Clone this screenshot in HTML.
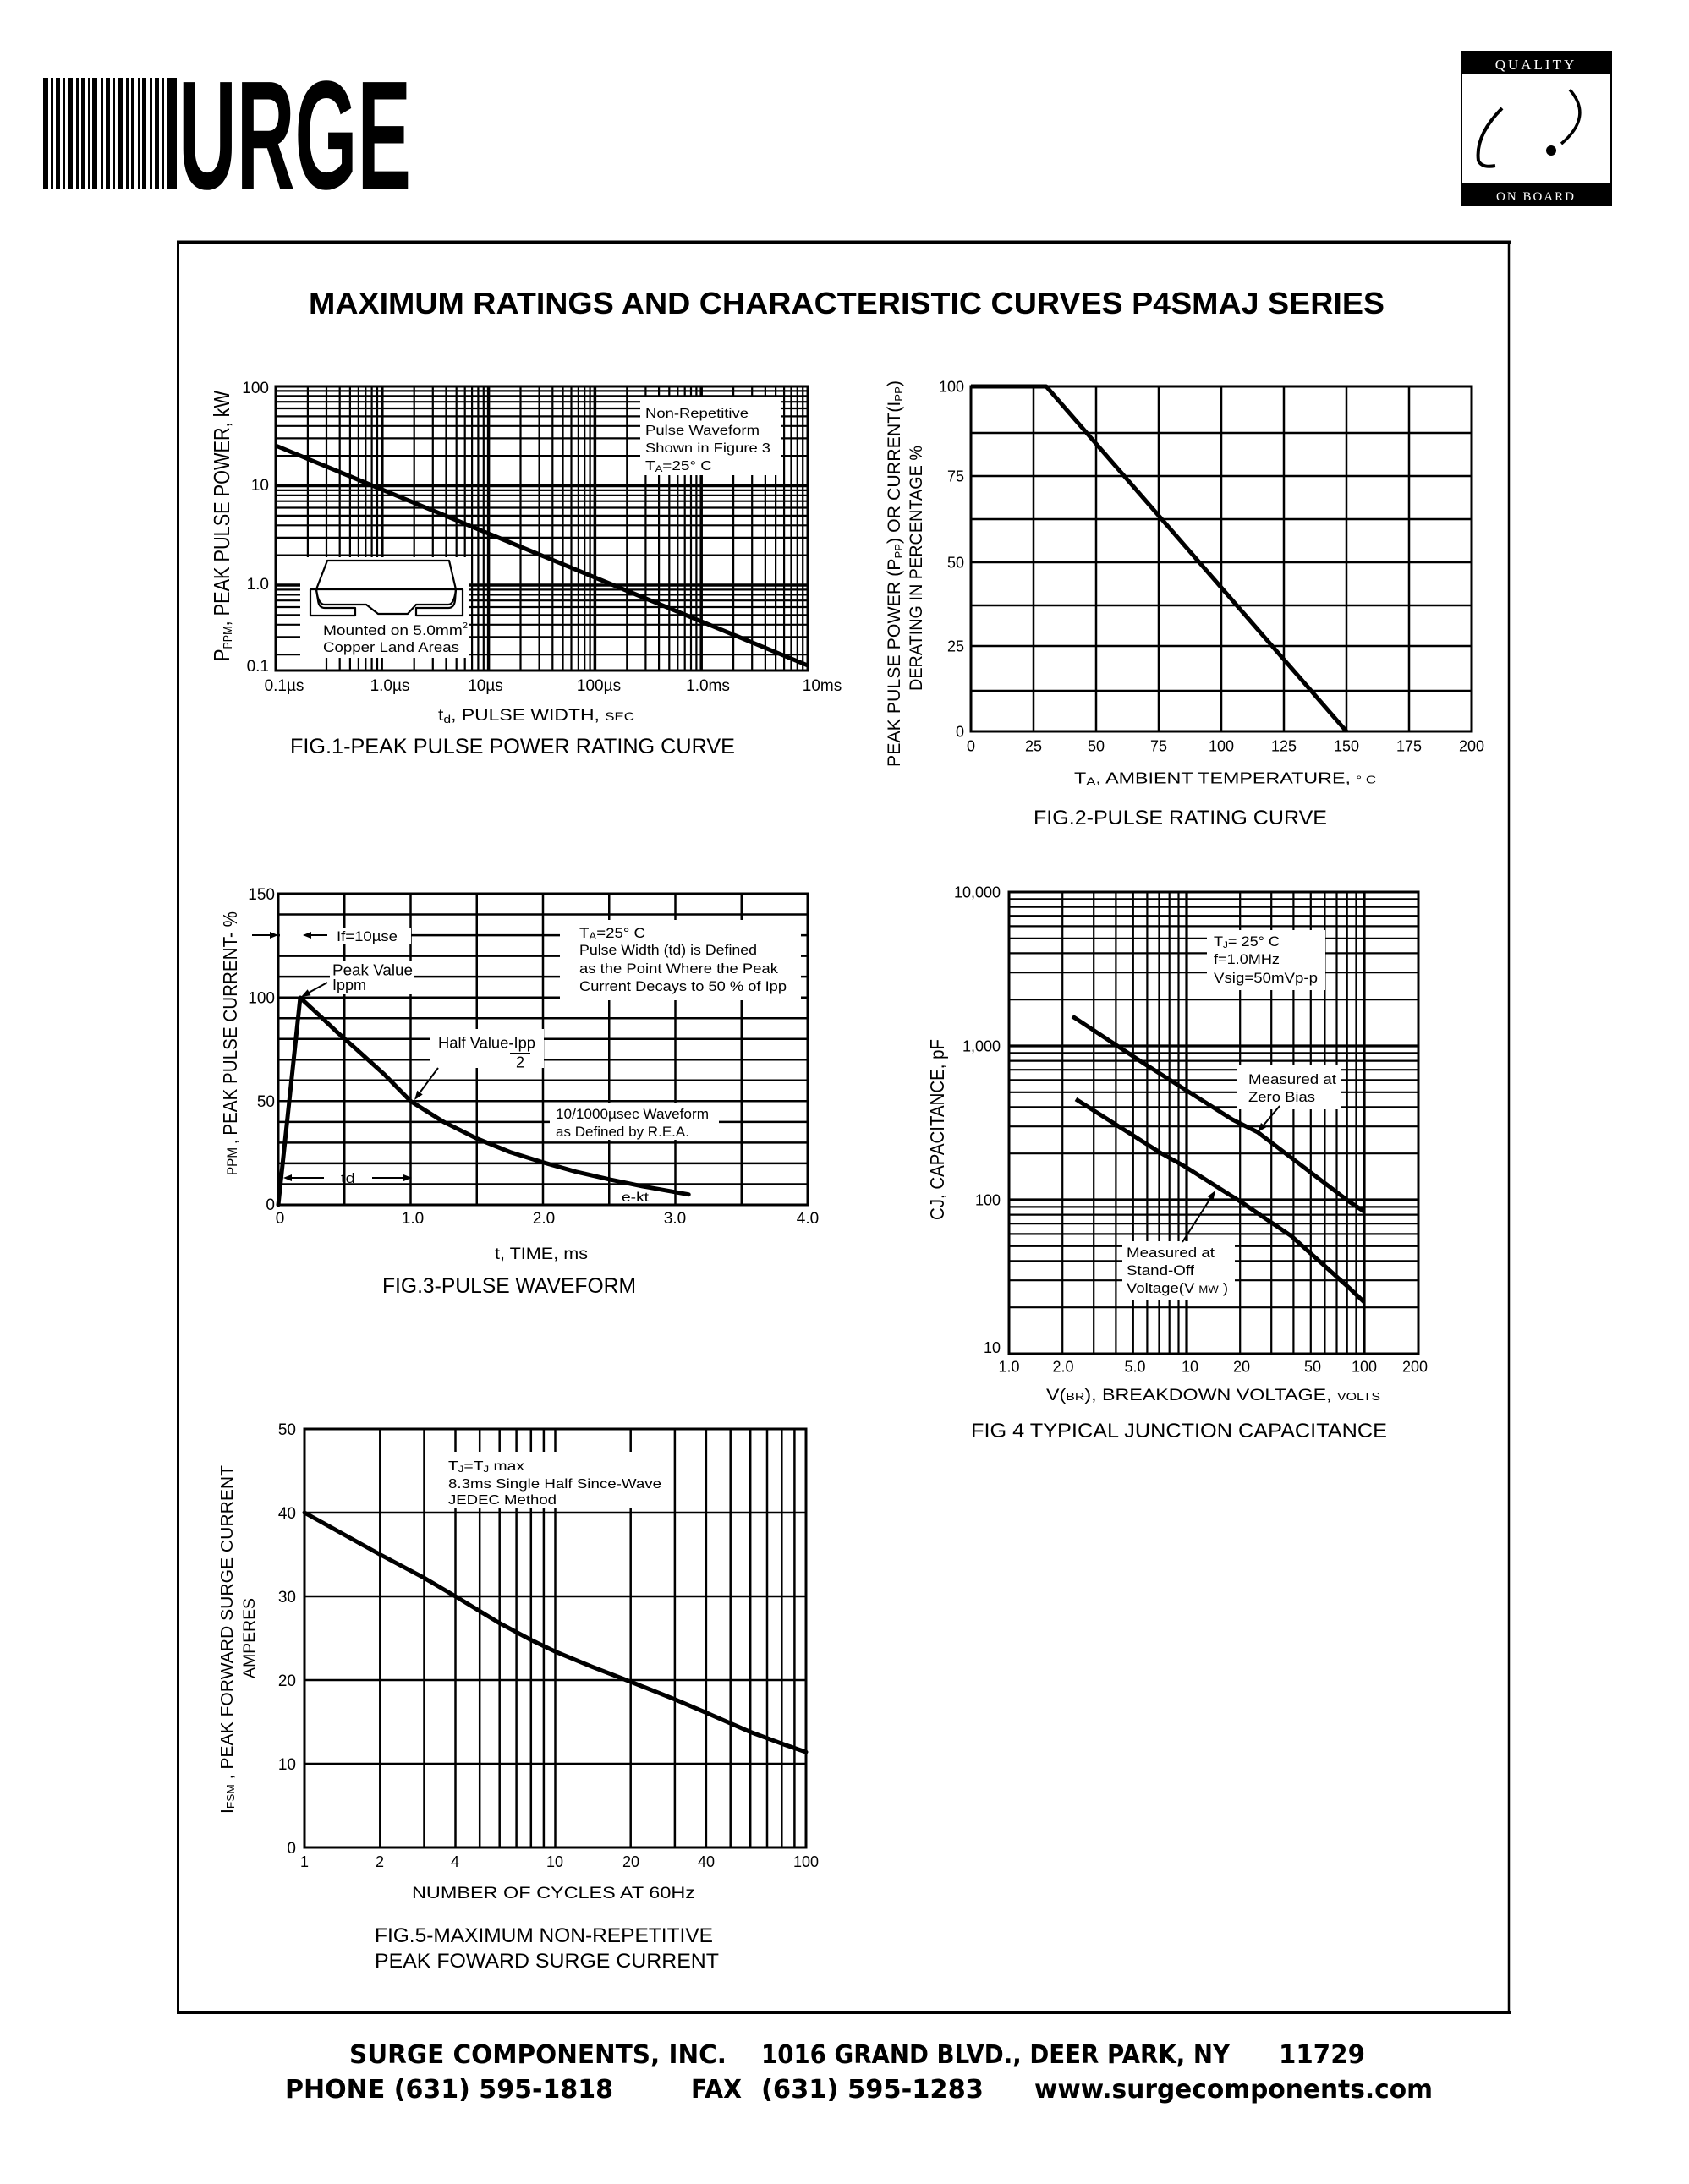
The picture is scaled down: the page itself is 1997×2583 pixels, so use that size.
<!DOCTYPE html>
<html><head><meta charset="utf-8"><title>P4SMAJ Series - Maximum Ratings and Characteristic Curves</title><style>
html,body{margin:0;padding:0;background:#fff;}
svg{display:block;}
</style></head><body>
<svg width="1997" height="2583" viewBox="0 0 1997 2583" xmlns="http://www.w3.org/2000/svg" font-family="'Liberation Sans', Arial, sans-serif" fill="#000">
<rect width="1997" height="2583" fill="#fff"/>

<!-- SURGE logo -->
<g fill="#000">
<rect x="51" y="92" width="6" height="131"/><rect x="60" y="92" width="3" height="131"/><rect x="66" y="92" width="5" height="131"/>
<rect x="75" y="92" width="2" height="131"/><rect x="80" y="92" width="6" height="131"/><rect x="90" y="92" width="3" height="131"/>
<rect x="96" y="92" width="4" height="131"/><rect x="104" y="92" width="2" height="131"/><rect x="109" y="92" width="6" height="131"/>
<rect x="119" y="92" width="3" height="131"/><rect x="125" y="92" width="5" height="131"/><rect x="134" y="92" width="2" height="131"/>
<rect x="139" y="92" width="6" height="131"/><rect x="149" y="92" width="3" height="131"/><rect x="155" y="92" width="4" height="131"/>
<rect x="163" y="92" width="2" height="131"/><rect x="168" y="92" width="5" height="131"/><rect x="177" y="92" width="3" height="131"/>
<rect x="183" y="92" width="5" height="131"/><rect x="191" y="92" width="3" height="131"/><rect x="197" y="92" width="12" height="131"/>
</g>
<text x="211" y="223" font-size="183" font-weight="bold" textLength="275" lengthAdjust="spacingAndGlyphs">URGE</text>

<!-- Quality on board logo -->
<rect x="1728" y="61" width="177" height="182" fill="#fff" stroke="#000" stroke-width="2"/>
<rect x="1728" y="61" width="177" height="27" fill="#000"/>
<rect x="1728" y="217" width="177" height="26" fill="#000"/>
<text x="1816" y="82" font-family="'Liberation Serif', serif" font-size="17" fill="#fff" text-anchor="middle" letter-spacing="3">QUALITY</text>
<text x="1816" y="237" font-family="'Liberation Serif', serif" font-size="15" fill="#fff" text-anchor="middle" letter-spacing="2">ON BOARD</text>
<path d="M1776,128 Q1744,160 1748,190 Q1752,199 1768,196" stroke="#000" stroke-width="4" fill="none"/>
<circle cx="1834" cy="178" r="6"/>
<path d="M1856,106 Q1884,138 1846,170" stroke="#000" stroke-width="3.5" fill="none"/>

<!-- Main frame -->
<g stroke="#000" fill="none">
<line x1="209" y1="286.5" x2="1786" y2="286.5" stroke-width="4"/>
<line x1="210.5" y1="285" x2="210.5" y2="2382" stroke-width="3"/>
<line x1="1784" y1="285" x2="1784" y2="2382" stroke-width="2.5"/>
<line x1="209" y1="2380" x2="1786" y2="2380" stroke-width="4"/>
</g>

<text x="365" y="371" font-size="36" font-weight="bold" textLength="1272" lengthAdjust="spacingAndGlyphs">MAXIMUM RATINGS AND CHARACTERISTIC CURVES P4SMAJ SERIES</text>

<!-- ================= FIG 1 ================= -->
<g stroke="#000" fill="none">
<path stroke-width="2.2" d="M363.9,457V793M386,457V793M401.7,457V793M413.9,457V793M423.9,457V793M432.3,457V793M439.6,457V793M446,457V793M489.7,457V793M511.8,457V793M527.5,457V793M539.7,457V793M549.7,457V793M558.1,457V793M565.4,457V793M571.8,457V793M615.5,457V793M637.6,457V793M653.3,457V793M665.5,457V793M675.5,457V793M683.9,457V793M691.2,457V793M697.6,457V793M741.3,457V793M763.4,457V793M779.1,457V793M791.3,457V793M801.3,457V793M809.7,457V793M817,457V793M823.4,457V793M867.1,457V793M889.2,457V793M904.9,457V793M917.1,457V793M927.1,457V793M935.5,457V793M942.8,457V793M949.2,457V793"/>
<path stroke-width="3.5" d="M451.8,457V793M577.6,457V793M703.4,457V793M829.2,457V793"/>
<path stroke-width="2.2" d="M326,462.4H955M326,468.4H955M326,475.2H955M326,483H955M326,492.4H955M326,503.8H955M326,518.4H955M326,539.1H955M326,579.9H955M326,585.9H955M326,592.7H955M326,600.5H955M326,609.9H955M326,621.3H955M326,635.9H955M326,656.6H955M326,697.4H955M326,703.4H955M326,710.2H955M326,718H955M326,727.4H955M326,738.8H955M326,753.4H955M326,774.1H955"/>
<path stroke-width="3.5" d="M326,574.5H955M326,692H955"/>
</g>
<rect x="757" y="470" width="166" height="92" fill="#fff"/>
<rect x="328" y="659" width="227" height="132.5" fill="#fff"/>
<g stroke="#000" fill="none">
<path stroke-width="3.5" d="M326,692H355"/>
<path stroke-width="2.2" d="M326,697.4H355M326,703.4H355M326,710.2H355M326,718H355M326,727.4H355M326,738.8H355M326,753.4H355M326,774.1H355"/>
<path stroke-width="2.2" d="M386,778V793M401.7,778V793M413.9,778V793M423.9,778V793M432.3,778V793M439.6,778V793M446,778V793M451.8,778V793M489.7,778V793M511.8,778V793M527.5,778V793M539.7,778V793M549.7,778V793"/>
<rect x="326" y="457" width="629" height="336" stroke-width="3"/>
<line x1="326" y1="527" x2="955" y2="787" stroke-width="5"/>
<!-- package drawing -->
<g stroke-width="2.2" stroke-linejoin="round">
<path d="M374,697 L387,663 L531,663 L539,697"/>
<path d="M367,697 L547,697"/>
<path d="M367,697 L367,728 L420,728 L420,719 L384,719 Q377,719 376,710 L374,697"/>
<path d="M547,697 L547,728 L492,728 L492,719 L530,719 Q537,719 538,710 L539,697"/>
<path d="M374,697 Q376,715 384,715 L433,715 L447,726 L482,726 L492,715 L530,715 Q537,715 539,697"/>
</g>
</g>
<g font-size="16">
<text x="763" y="494" textLength="122" lengthAdjust="spacingAndGlyphs">Non-Repetitive</text>
<text x="763" y="514" textLength="135" lengthAdjust="spacingAndGlyphs">Pulse Waveform</text>
<text x="763" y="535" textLength="148" lengthAdjust="spacingAndGlyphs">Shown in Figure 3</text>
<text x="763" y="556" textLength="79" lengthAdjust="spacingAndGlyphs">T<tspan font-size="11" dy="2">A</tspan><tspan dy="-2">=25° C</tspan></text>
</g>
<g font-size="17">
<text x="382" y="751" textLength="171" lengthAdjust="spacingAndGlyphs">Mounted on 5.0mm<tspan font-size="10" dy="-8">2</tspan></text>
<text x="382" y="771" textLength="161" lengthAdjust="spacingAndGlyphs">Copper Land Areas</text>
</g>
<g font-size="19" text-anchor="end">
<text x="318" y="465">100</text>
<text x="318" y="580">10</text>
<text x="318" y="697">1.0</text>
<text x="318" y="794">0.1</text>
</g>
<g font-size="19" text-anchor="middle">
<text x="336" y="817">0.1µs</text>
<text x="461" y="817">1.0µs</text>
<text x="574" y="817">10µs</text>
<text x="708" y="817">100µs</text>
<text x="837" y="817">1.0ms</text>
<text x="972" y="817">10ms</text>
</g>
<text x="518" y="852" font-size="19" textLength="232" lengthAdjust="spacingAndGlyphs">t<tspan font-size="13" dy="3">d</tspan><tspan dy="-3">, PULSE  WIDTH, </tspan><tspan font-size="14">SEC</tspan></text>
<text x="343" y="891" font-size="25" textLength="526" lengthAdjust="spacingAndGlyphs">FIG.1-PEAK PULSE POWER RATING CURVE</text>
<text transform="translate(271,782) rotate(-90)" font-size="26" textLength="320" lengthAdjust="spacingAndGlyphs">P<tspan font-size="15" dy="3">PPM</tspan><tspan dy="-3">, PEAK  PULSE  POWER,  kW</tspan></text>

<!-- ================= FIG 2 ================= -->
<g stroke="#000" fill="none">
<path stroke-width="2.5" d="M1222,457V865M1296,457V865M1370,457V865M1444,457V865M1518,457V865M1592,457V865M1666,457V865"/>
<path stroke-width="2.5" d="M1148,512H1740M1148,563H1740M1148,614H1740M1148,665H1740M1148,716H1740M1148,764H1740M1148,817H1740"/>
<rect x="1148" y="457" width="592" height="408" stroke-width="3"/>
<path d="M1148,457 H1237 L1592,865" stroke-width="5" stroke-linejoin="round"/>
</g>
<g font-size="18" text-anchor="end">
<text x="1140" y="463.5">100</text>
<text x="1140" y="569.5">75</text>
<text x="1140" y="671.5">50</text>
<text x="1140" y="770.5">25</text>
<text x="1140" y="871.5">0</text>
</g>
<g font-size="18" text-anchor="middle">
<text x="1148" y="888.5">0</text>
<text x="1222" y="888.5">25</text>
<text x="1296" y="888.5">50</text>
<text x="1370" y="888.5">75</text>
<text x="1444" y="888.5">100</text>
<text x="1518" y="888.5">125</text>
<text x="1592" y="888.5">150</text>
<text x="1666" y="888.5">175</text>
<text x="1740" y="888.5">200</text>
</g>
<text x="1270" y="926.5" font-size="18" textLength="357" lengthAdjust="spacingAndGlyphs">T<tspan font-size="13" dy="2">A</tspan><tspan dy="-2">, AMBIENT  TEMPERATURE, </tspan><tspan font-size="13">° C</tspan></text>
<text x="1222" y="975" font-size="24" textLength="347" lengthAdjust="spacingAndGlyphs">FIG.2-PULSE RATING CURVE</text>
<text transform="translate(1064,907) rotate(-90)" font-size="21" textLength="457" lengthAdjust="spacingAndGlyphs">PEAK PULSE POWER (P<tspan font-size="13" dy="3">PP</tspan><tspan dy="-3">) OR CURRENT(I</tspan><tspan font-size="13" dy="3">PP</tspan><tspan dy="-3">)</tspan></text>
<text transform="translate(1090,817) rotate(-90)" font-size="21" textLength="290" lengthAdjust="spacingAndGlyphs">DERATING IN PERCENTAGE %</text>

<!-- ================= FIG 3 ================= -->
<g stroke="#000" fill="none">
<path stroke-width="2.5" d="M407.25,1057V1425M485.5,1057V1425M563.75,1057V1425M642,1057V1425M720.25,1057V1425M798.5,1057V1425M876.75,1057V1425"/>
<path stroke-width="2.5" d="M329,1081.5H955M329,1106.1H955M329,1130.6H955M329,1155.1H955M329,1179.7H955M329,1204.2H955M329,1228.7H955M329,1253.3H955M329,1277.8H955M329,1302.3H955M329,1326.9H955M329,1351.4H955M329,1375.9H955M329,1400.5H955"/>
</g>
<rect x="331" y="1097" width="155" height="20" fill="#fff"/>
<rect x="390" y="1136" width="100" height="40" fill="#fff"/>
<rect x="662" y="1088" width="285" height="95" fill="#fff"/>
<rect x="508" y="1217" width="135" height="46" fill="#fff"/>
<rect x="650" y="1305" width="200" height="43" fill="#fff"/>
<g stroke="#000" fill="none">
<rect x="329" y="1057" width="626" height="368" stroke-width="3"/>
<polyline stroke-width="5" stroke-linejoin="round" stroke-linecap="round" points="329,1425 355,1180 376,1199.4 399.4,1221.5 422.9,1242.3 454.2,1270.5 485.5,1302.4 524.6,1326.9 563.8,1346.5 602.9,1362.5 642,1374.7 681.1,1385.8 720.3,1394.8 759.4,1402.9 814.2,1412.7"/>
<g stroke-width="2">
<path d="M298,1106H322M387,1106H366M387,1162L365,1174M518,1263L495,1294M383,1393H345M440,1393H477M603,1246H627"/>
</g>
</g>
<g>
<polygon points="329,1106 319,1102 319,1110"/>
<polygon points="358,1106 368,1102 368,1110"/>
<polygon points="356,1179 367.5,1177.2 363.7,1170.2"/>
<polygon points="490,1301 499.7,1294.5 493.3,1289.7"/>
<polygon points="335,1393 345,1389 345,1397"/>
<polygon points="487,1393 477,1389 477,1397"/>
</g>
<g font-size="17">
<text x="398" y="1113" textLength="72" lengthAdjust="spacingAndGlyphs">If=10µse</text>
<text x="393" y="1153.5" font-size="18" textLength="95" lengthAdjust="spacingAndGlyphs">Peak Value</text>
<text x="393" y="1171" font-size="18" textLength="40" lengthAdjust="spacingAndGlyphs">Ippm</text>
<text x="685" y="1109" textLength="78" lengthAdjust="spacingAndGlyphs">T<tspan font-size="12" dy="2">A</tspan><tspan dy="-2">=25° C</tspan></text>
<text x="685" y="1129" textLength="210" lengthAdjust="spacingAndGlyphs">Pulse Width (td) is Defined</text>
<text x="685" y="1151" textLength="235" lengthAdjust="spacingAndGlyphs">as the Point Where the Peak</text>
<text x="685" y="1172" textLength="245" lengthAdjust="spacingAndGlyphs">Current Decays to 50 % of Ipp</text>
<text x="518" y="1239.5" font-size="18" textLength="115" lengthAdjust="spacingAndGlyphs">Half Value-Ipp</text>
<text x="615" y="1262.5" font-size="18" text-anchor="middle">2</text>
<text x="657" y="1323" textLength="181" lengthAdjust="spacingAndGlyphs">10/1000µsec Waveform</text>
<text x="657" y="1344" textLength="158" lengthAdjust="spacingAndGlyphs">as Defined by R.E.A.</text>
<text x="403" y="1399" textLength="17" lengthAdjust="spacingAndGlyphs">td</text>
<text x="735" y="1421" font-size="16" textLength="32" lengthAdjust="spacingAndGlyphs">e-kt</text>
</g>
<g font-size="19" text-anchor="end">
<text x="325" y="1064">150</text>
<text x="325" y="1186.5">100</text>
<text x="325" y="1309">50</text>
<text x="325" y="1431">0</text>
</g>
<g font-size="19" text-anchor="middle">
<text x="331" y="1447">0</text>
<text x="488" y="1447">1.0</text>
<text x="643" y="1447">2.0</text>
<text x="798" y="1447">3.0</text>
<text x="955" y="1447">4.0</text>
</g>
<text x="585" y="1489" font-size="19" textLength="110" lengthAdjust="spacingAndGlyphs">t, TIME, ms</text>
<text x="452" y="1529" font-size="25" textLength="300" lengthAdjust="spacingAndGlyphs">FIG.3-PULSE WAVEFORM</text>
<text transform="translate(280,1390) rotate(-90)" font-size="23" textLength="312" lengthAdjust="spacingAndGlyphs"><tspan font-size="17">PPM ,</tspan> PEAK  PULSE  CURRENT- %</text>

<!-- ================= FIG 4 ================= -->
<g stroke="#000" fill="none">
<path stroke-width="2.2" d="M1256.2,1055V1601M1293.2,1055V1601M1319.4,1055V1601M1339.8,1055V1601M1356.4,1055V1601M1370.5,1055V1601M1382.7,1055V1601M1393.5,1055V1601M1466.2,1055V1601M1503.2,1055V1601M1529.4,1055V1601M1549.8,1055V1601M1566.4,1055V1601M1580.5,1055V1601M1592.7,1055V1601M1603.5,1055V1601"/>
<path stroke-width="3.2" d="M1403,1055V1601M1613,1055V1601"/>
<path stroke-width="2.2" d="M1193,1063.4H1677M1193,1072.6H1677M1193,1083.2H1677M1193,1095.4H1677M1193,1109.8H1677M1193,1127.4H1677M1193,1150.2H1677M1193,1182.2H1677M1193,1245.4H1677M1193,1254.6H1677M1193,1265.2H1677M1193,1277.4H1677M1193,1291.8H1677M1193,1309.4H1677M1193,1332.2H1677M1193,1364.2H1677M1193,1427.4H1677M1193,1436.6H1677M1193,1447.2H1677M1193,1459.4H1677M1193,1473.8H1677M1193,1491.4H1677M1193,1514.2H1677M1193,1546.2H1677"/>
<path stroke-width="3.2" d="M1193,1237H1677M1193,1419H1677"/>
</g>
<rect x="1427" y="1100" width="140" height="71" fill="#fff"/>
<rect x="1463" y="1259" width="123" height="53" fill="#fff"/>
<rect x="1327" y="1468" width="133" height="69" fill="#fff"/>
<g stroke="#000" fill="none">
<rect x="1193" y="1055" width="484" height="546" stroke-width="3"/>
<polyline stroke-width="5" stroke-linejoin="round" points="1268,1202 1353,1258 1457,1324 1487,1339 1595,1421 1613,1433"/>
<polyline stroke-width="5" stroke-linejoin="round" points="1272,1300 1373,1364 1400,1379 1468,1422 1527,1462 1595,1523 1613,1540"/>
<path stroke-width="2" d="M1513,1308L1492,1333M1398,1469L1432,1416"/>
</g>
<polygon points="1487,1339 1497.2,1333.2 1491,1328"/>
<polygon points="1437,1408 1434.5,1419.5 1427.7,1415.1"/>
<g font-size="17">
<text x="1435" y="1119" textLength="78" lengthAdjust="spacingAndGlyphs">T<tspan font-size="11" dy="2">J</tspan><tspan dy="-2">= 25° C</tspan></text>
<text x="1435" y="1140" textLength="78" lengthAdjust="spacingAndGlyphs">f=1.0MHz</text>
<text x="1435" y="1162" textLength="123" lengthAdjust="spacingAndGlyphs">Vsig=50mVp-p</text>
<text x="1476" y="1282" textLength="104" lengthAdjust="spacingAndGlyphs">Measured at</text>
<text x="1476" y="1303" textLength="79" lengthAdjust="spacingAndGlyphs">Zero Bias</text>
<text x="1332" y="1487" textLength="104" lengthAdjust="spacingAndGlyphs">Measured at</text>
<text x="1332" y="1508" textLength="80" lengthAdjust="spacingAndGlyphs">Stand-Off</text>
<text x="1332" y="1529" textLength="120" lengthAdjust="spacingAndGlyphs">Voltage(V <tspan font-size="12">MW</tspan> )</text>
</g>
<g font-size="18" text-anchor="end">
<text x="1183" y="1061.5">10,000</text>
<text x="1183" y="1243.5">1,000</text>
<text x="1183" y="1425.5">100</text>
<text x="1183" y="1600">10</text>
</g>
<g font-size="18" text-anchor="middle">
<text x="1193" y="1622.5">1.0</text>
<text x="1257" y="1622.5">2.0</text>
<text x="1342" y="1622.5">5.0</text>
<text x="1407" y="1622.5">10</text>
<text x="1468" y="1622.5">20</text>
<text x="1552" y="1622.5">50</text>
<text x="1613" y="1622.5">100</text>
<text x="1673" y="1622.5">200</text>
</g>
<text x="1237" y="1656" font-size="19" textLength="395" lengthAdjust="spacingAndGlyphs">V(<tspan font-size="13">BR</tspan>), BREAKDOWN  VOLTAGE, <tspan font-size="13">VOLTS</tspan></text>
<text x="1148" y="1700" font-size="24" textLength="492" lengthAdjust="spacingAndGlyphs">FIG 4 TYPICAL JUNCTION CAPACITANCE</text>
<text transform="translate(1116,1443) rotate(-90)" font-size="23" textLength="214" lengthAdjust="spacingAndGlyphs">CJ, CAPACITANCE, pF</text>

<!-- ================= FIG 5 ================= -->
<g stroke="#000" fill="none">
<path stroke-width="2.5" d="M449.3,1690V2185M501.5,1690V2185M538.5,1690V2185M567.2,1690V2185M590.7,1690V2185M610.6,1690V2185M627.8,1690V2185M642.9,1690V2185M656.5,1690V2185M745.7,1690V2185M797.9,1690V2185M834.9,1690V2185M863.7,1690V2185M887.2,1690V2185M907,1690V2185M924.3,1690V2185M939.4,1690V2185"/>
<path stroke-width="2.5" d="M360,1789H953M360,1888H953M360,1987H953M360,2086H953"/>
</g>
<rect x="525" y="1717" width="265" height="67" fill="#fff"/>
<g stroke="#000" fill="none">
<rect x="360" y="1690" width="593" height="495" stroke-width="3"/>
<polyline stroke-width="5" stroke-linejoin="round" stroke-linecap="round" points="360,1789 449.3,1838.5 501.5,1866.2 538.5,1888 590.7,1919.7 627.8,1939.5 656.5,1953.3 699.8,1971.2 745.7,1989 797.9,2009.8 834.9,2025.6 887.2,2048.4 924.3,2062.2 953,2072.1"/>
</g>
<g font-size="16">
<text x="530" y="1739" textLength="90" lengthAdjust="spacingAndGlyphs">T<tspan font-size="11" dy="2">J</tspan><tspan dy="-2">=T</tspan><tspan font-size="11" dy="2">J</tspan><tspan dy="-2"> max</tspan></text>
<text x="530" y="1760" textLength="252" lengthAdjust="spacingAndGlyphs">8.3ms Single Half Since-Wave</text>
<text x="530" y="1779" textLength="128" lengthAdjust="spacingAndGlyphs">JEDEC Method</text>
</g>
<g font-size="19" text-anchor="end">
<text x="350" y="1697">50</text>
<text x="350" y="1796">40</text>
<text x="350" y="1895">30</text>
<text x="350" y="1994">20</text>
<text x="350" y="2093">10</text>
<text x="350" y="2192">0</text>
</g>
<g font-size="18" text-anchor="middle">
<text x="360" y="2208">1</text>
<text x="449" y="2208">2</text>
<text x="538" y="2208">4</text>
<text x="656" y="2208">10</text>
<text x="746" y="2208">20</text>
<text x="835" y="2208">40</text>
<text x="953" y="2208">100</text>
</g>
<text x="487" y="2245" font-size="19" textLength="335" lengthAdjust="spacingAndGlyphs">NUMBER  OF  CYCLES  AT  60Hz</text>
<text x="443" y="2297" font-size="24" textLength="400" lengthAdjust="spacingAndGlyphs">FIG.5-MAXIMUM NON-REPETITIVE</text>
<text x="443" y="2327" font-size="24" textLength="407" lengthAdjust="spacingAndGlyphs">PEAK FOWARD SURGE CURRENT</text>
<text transform="translate(275,2145) rotate(-90)" font-size="20" textLength="412" lengthAdjust="spacingAndGlyphs">I<tspan font-size="13" dy="2">FSM</tspan><tspan dy="-2"> , PEAK  FORWARD  SURGE  CURRENT</tspan></text>
<text transform="translate(301,1985) rotate(-90)" font-size="19" textLength="95" lengthAdjust="spacingAndGlyphs">AMPERES</text>

<!-- Footer -->
<g font-family="'DejaVu Sans', 'Liberation Sans', sans-serif" font-weight="bold" font-size="30">
<text x="413" y="2440" textLength="446" lengthAdjust="spacingAndGlyphs">SURGE COMPONENTS, INC.</text>
<text x="900" y="2440" textLength="554" lengthAdjust="spacingAndGlyphs">1016 GRAND BLVD., DEER PARK, NY</text>
<text x="1512" y="2440" textLength="102" lengthAdjust="spacingAndGlyphs">11729</text>
<text x="337" y="2481" textLength="388" lengthAdjust="spacingAndGlyphs">PHONE (631) 595-1818</text>
<text x="817" y="2481" textLength="60" lengthAdjust="spacingAndGlyphs">FAX</text>
<text x="900" y="2481" textLength="263" lengthAdjust="spacingAndGlyphs">(631) 595-1283</text>
<text x="1223" y="2481" textLength="471" lengthAdjust="spacingAndGlyphs">www.surgecomponents.com</text>
</g>
</svg>
</body></html>
